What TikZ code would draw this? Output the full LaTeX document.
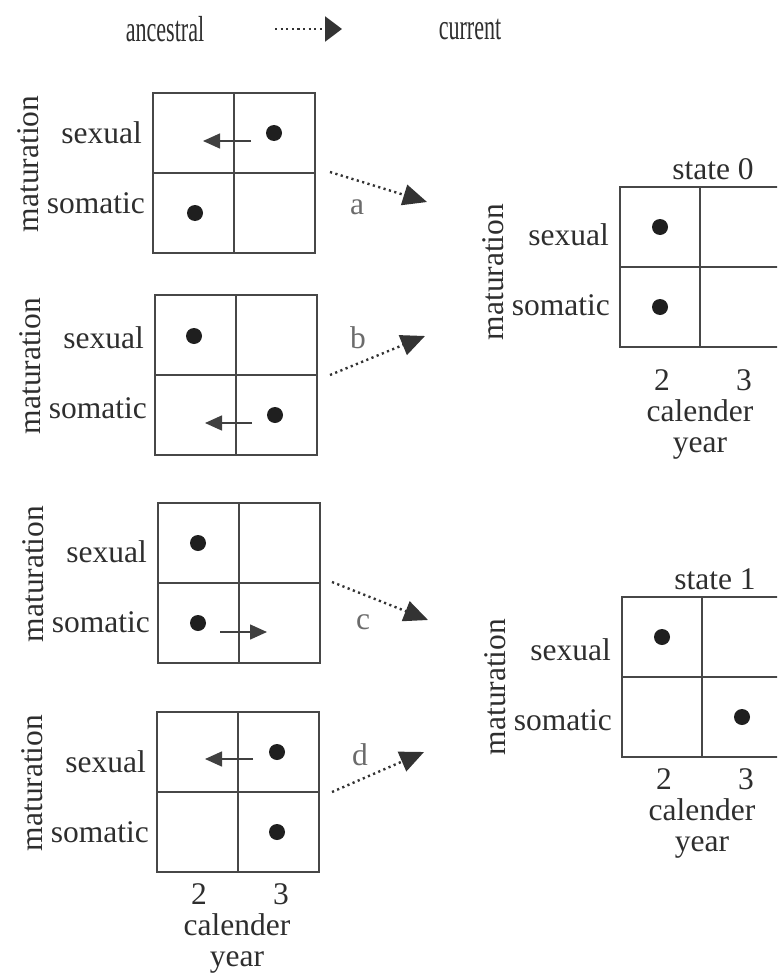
\documentclass[tikz,border=0pt]{standalone}
\usepackage{fontspec}
\setmainfont{Liberation Serif}
\usetikzlibrary{calc}
\usetikzlibrary{arrows.meta}
\newcommand{\narrow}[1]{\scalebox{0.7}[1.15]{#1}}
\tikzset{
    gridline/.style={draw=black!72, line width=1.7pt},
    dot/.style={circle, fill=black!88, inner sep=0pt, minimum size=16pt},
    lbl/.style={inner sep=0pt, text=black!82, font=\fontsize{31.5}{36}\selectfont},
    move/.style={draw=black!75, line width=1.5pt, -{Triangle[length=17pt,width=15pt]}},
    evolve/.style={draw=black!80, line width=2.4pt, dash pattern=on 2.2pt off 3.4pt, -{Triangle[length=24pt,width=21pt]}}
}

\begin{document}
\begin{tikzpicture}[x=1pt, y=-1pt]
\useasboundingbox (0,0) rectangle (777,979);
\clip (0,0) rectangle (777,979);
% header
\node[lbl] (anc) at (165,29) {\narrow{ancestral}};
\node[lbl] (cur) at (470,29) {\narrow{current}};
\coordinate (hd-from) at (275,29);
\coordinate (hd-to) at (342,29);
\draw[evolve, -{Triangle[length=17pt,width=25pt]}] (hd-from) -- (hd-to);
% ancestral grids
\foreach \g/\x/\y/\o in {a/153/93/0, b/155/295/3, c/158/503/9, d/157/712/10}{
    \coordinate (\g-nw) at (\x,\y);
    \draw[gridline] (\g-nw) rectangle ++(162,160);
    \draw[gridline] ($(\g-nw)+(81,0)$) -- ++(0,160);
    \draw[gridline] ($(\g-nw)+(0,80)$) -- ++(162,0);
    \node[lbl, anchor=east] (\g-sex) at ($(\g-nw)+(-11,40+\o)$) {sexual};
    \node[lbl, anchor=east] (\g-som) at ($(\g-nw)+(-8,110+\o)$) {somatic};
    \node[lbl, rotate=90] (\g-mat) at ($(\g-nw)+(-125,71)$) {maturation};
}
% current grids (cut at the right edge)
\foreach \g/\x/\y/\o/\s in {r0/620/187/0/0, r1/622/597/5/1}{
    \coordinate (\g-nw) at (\x,\y);
    \draw[gridline] (\g-nw) rectangle ++(180,160);
    \draw[gridline] ($(\g-nw)+(80,0)$) -- ++(0,160);
    \draw[gridline] ($(\g-nw)+(0,80)$) -- ++(180,0);
    \node[lbl, anchor=east] (\g-sex) at ($(\g-nw)+(-11,48+\o)$) {sexual};
    \node[lbl, anchor=east] (\g-som) at ($(\g-nw)+(-10,118+\o)$) {somatic};
    \node[lbl, rotate=90] (\g-mat) at ($(\g-nw)+(-127,85+\o)$) {maturation};
    \node[lbl] (\g-state) at ($(\g-nw)+(93,-18)$) {state \s};
}
% calender year axes
\foreach \g/\cx/\ty in {d/237/894, r0/700/380, r1/702/779}{
    \node[lbl] (\g-two) at (\cx-38,\ty) {2};
    \node[lbl] (\g-three) at (\cx+44,\ty) {3};
    \node[lbl] (\g-cal) at (\cx,\ty+31) {calender};
    \node[lbl] (\g-year) at (\cx,\ty+68) {year};
}
% fish
\foreach \n/\x/\y in {a1/274/133, a2/195/213, b1/194/336, b2/275/415, c1/198/543, c2/198/623, d1/277/752, d2/277/832, e1/660/227, e2/660/307, f1/662/637, f2/742/717}{
    \node[dot] (dot-\n) at (\x,\y) {};
}
% moves inside the grids
\foreach \n/\x/\y/\u in {a/251/141/203, b/252/423/205, c/220/632/267, d/253/759/205}{
    \coordinate (\n-from) at (\x,\y);
    \coordinate (\n-to) at (\u,\y);
    \draw[move] (\n-from) -- (\n-to);
}
% ancestral to current
\foreach \n/\x/\y/\u/\v/\lx/\ly in {a/330/172/427/202/357/207, b/330/375/425/336/358/338, c/332/582/428/620/363/622, d/332/792/424/752/360/755}{
    \coordinate (\n-start) at (\x,\y);
    \coordinate (\n-end) at (\u,\v);
    \draw[evolve] (\n-start) -- (\n-end);
    \node[lbl, text=black!58] (\n-lab) at (\lx,\ly) {\n};
}
\end{tikzpicture}
\end{document}
